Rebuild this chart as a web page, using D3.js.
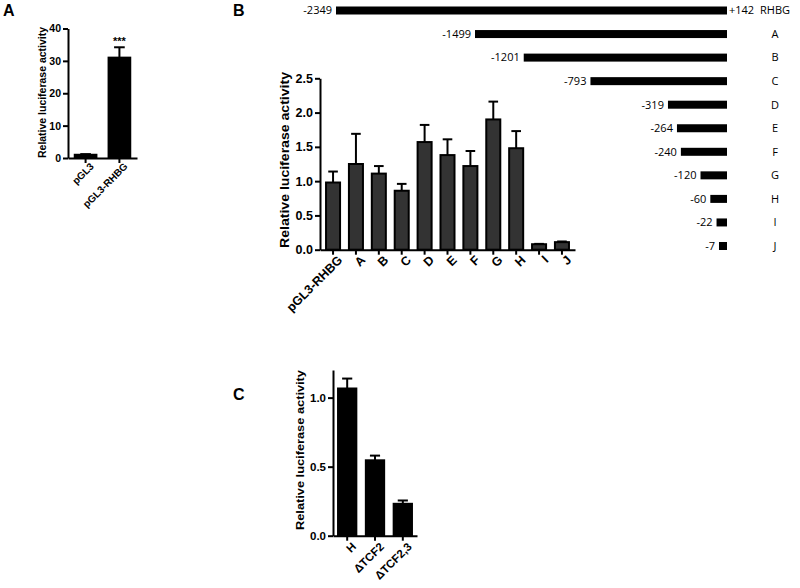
<!DOCTYPE html>
<html><head><meta charset="utf-8">
<script src="https://cdn.jsdelivr.net/npm/d3@7"></script>
<style>
body{margin:0;background:#fff;}
svg{display:block;}
.gp text{font-family:"Liberation Sans",Arial,sans-serif;font-weight:bold;fill:#000;}
.map text{font-family:"Open Sans","Noto Sans",sans-serif;fill:#000;}
</style></head>
<body>
<svg id="chart" width="800" height="588"></svg>
<script>
// ---------- data ----------
const aCats = ["pGL3", "pGL3-RHBG"];
const aVals = [1.0, 31.0];
const aErr  = [1.2, 34.2];
const aTicks = [0, 10, 20, 30, 40];

const bCats = ["pGL3-RHBG", "A", "B", "C", "D", "E", "F", "G", "H", "I", "J"];
const bVals = [0.98, 1.25, 1.11, 0.86, 1.57, 1.38, 1.22, 1.90, 1.48, 0.08, 0.11];
const bErr  = [1.14, 1.69, 1.22, 0.96, 1.82, 1.61, 1.44, 2.16, 1.73, 0.085, 0.12];
const bTicks = [0, 0.5, 1.0, 1.5, 2.0, 2.5];

const cCats = ["H", "\u0394TCF2", "\u0394TCF2,3"];
const cVals = [1.066, 0.546, 0.231];
const cErr  = [1.138, 0.58, 0.255];
const cTicks = [0, 0.5, 1.0];

const constructNames  = ["RHBG", "A", "B", "C", "D", "E", "F", "G", "H", "I", "J"];
const constructStarts = [-2349, -1499, -1201, -793, -319, -264, -240, -120, -60, -22, -7];
const constructEnd = 142;

const svg = d3.select("#chart");

// ---------- generic GraphPad-style bar panel ----------
function barPanel(opt) {
  const g = svg.append("g").attr("class", "gp");
  const x = d3.scaleBand().domain(opt.cats).range([opt.x0, opt.x1])
    .paddingInner(opt.pin).paddingOuter(opt.pout);
  const y = d3.scaleLinear().domain([0, opt.ymax]).range([opt.y0, opt.y1]);
  const data = opt.cats.map((c, i) => ({c, v: opt.vals[i], e: opt.errs[i]}));

  g.selectAll("rect.bar").data(data).join("rect").attr("class", "bar")
    .attr("x", d => x(d.c) + 1)
    .attr("width", x.bandwidth() - 2)
    .attr("y", d => y(d.v))
    .attr("height", d => y(0) - y(d.v))
    .attr("fill", opt.fill).attr("stroke", "#000").attr("stroke-width", 2);

  const capW = x.bandwidth() * opt.cap;
  g.selectAll("line.err").data(data).join("line").attr("class", "err")
    .attr("x1", d => x(d.c) + x.bandwidth() / 2).attr("x2", d => x(d.c) + x.bandwidth() / 2)
    .attr("y1", d => y(d.v)).attr("y2", d => y(d.e))
    .attr("stroke", "#000").attr("stroke-width", 2);
  g.selectAll("line.cap").data(data).join("line").attr("class", "cap")
    .attr("x1", d => x(d.c) + x.bandwidth() / 2 - capW / 2)
    .attr("x2", d => x(d.c) + x.bandwidth() / 2 + capW / 2)
    .attr("y1", d => y(d.e)).attr("y2", d => y(d.e))
    .attr("stroke", "#000").attr("stroke-width", 2);

  const ya = g.append("g").attr("transform", `translate(${opt.x0},0)`)
    .call(d3.axisLeft(y).tickValues(opt.ticks).tickFormat(opt.fmt)
      .tickSize(5).tickSizeOuter(0).tickPadding(2));
  ya.select(".domain").attr("stroke-width", 2);
  ya.selectAll(".tick line").attr("stroke-width", 2);
  ya.selectAll("text").attr("font-size", opt.tickFont)
    .attr("font-family", "Liberation Sans, Arial, sans-serif").attr("font-weight", "bold");

  const xa = g.append("g").attr("transform", `translate(0,${opt.y0})`)
    .call(d3.axisBottom(x).tickSize(5).tickSizeOuter(0).tickFormat(""));
  xa.select(".domain").attr("stroke-width", 2);
  xa.selectAll(".tick line").attr("stroke-width", 2);

  // x category labels, rotated -45 degrees, ending under each tick
  g.selectAll("text.xl").data(opt.cats).join("text").attr("class", "xl")
    .attr("transform", d => `translate(${x(d) + x.bandwidth() / 2 + opt.lx},${opt.y0 + opt.ly}) rotate(-45)`)
    .attr("text-anchor", "end").attr("dy", "0.7em")
    .attr("font-size", opt.xFont).text(d => d);

  g.append("text")
    .attr("transform", `translate(${opt.labX},${opt.labY}) rotate(-90)`)
    .attr("text-anchor", "middle")
    .attr("font-size", opt.labFont)
    .attr("textLength", opt.labLen).attr("lengthAdjust", "spacingAndGlyphs")
    .text("Relative luciferase activity");
  return {g, x, y};
}

// ---------- Panel A ----------
const pa = barPanel({
  cats: aCats, vals: aVals, errs: aErr, ticks: aTicks, fmt: d3.format("d"),
  x0: 68, x1: 137, pin: 0.3, pout: 0.17, y0: 158, y1: 28.5, ymax: 40,
  fill: "#000", cap: 0.45, tickFont: 10.5, xFont: 10, lx: 4, ly: 4,
  labX: 46, labY: 92.5, labFont: 10.5, labLen: 131
});
pa.g.append("text").attr("x", pa.x("pGL3-RHBG") + pa.x.bandwidth() / 2)
  .attr("y", pa.y(aErr[1]) - 2).attr("text-anchor", "middle")
  .attr("font-size", 11).text("***");

// ---------- Panel B bar chart ----------
barPanel({
  cats: bCats, vals: bVals, errs: bErr, ticks: bTicks, fmt: d3.format(".1f"),
  x0: 320, x1: 575, pin: 0.3, pout: 0.22, y0: 249.7, y1: 78.3, ymax: 2.5,
  fill: "#333", cap: 0.6, tickFont: 12.5, xFont: 12.5, lx: 4, ly: 5,
  labX: 289, labY: 160, labFont: 12.5, labLen: 176
});

// ---------- Panel C ----------
barPanel({
  cats: cCats, vals: cVals, errs: cErr, ticks: cTicks, fmt: d3.format(".1f"),
  x0: 333, x1: 417, pin: 0.27, pout: 0.145, y0: 535.7, y1: 370, ymax: 1.2,
  fill: "#000", cap: 0.5, tickFont: 11.5, xFont: 11.5, lx: 4, ly: 6,
  labX: 304, labY: 450, labFont: 11.5, labLen: 160
});

// ---------- Panel B construct map ----------
const map = svg.append("g").attr("class", "map");
// schematic map axis (all constructs drawn to the same right edge)
const mx = d3.scaleLinear().domain([constructStarts[0], constructEnd - 100]).range([336, 727]);
const my = d3.scalePoint().domain(constructNames).range([10.5, 246]);
const mapData = constructNames.map((n, i) => ({n, s: constructStarts[i]}));
const endX = mx(constructEnd - 100);
map.selectAll("rect").data(mapData).join("rect")
  .attr("x", d => mx(d.s)).attr("width", d => endX - mx(d.s))
  .attr("y", d => my(d.n) - 4).attr("height", 8).attr("fill", "#000");
map.selectAll("text.st").data(mapData).join("text").attr("class", "st")
  .attr("x", d => mx(d.s) - 4).attr("y", d => my(d.n)).attr("dy", "0.35em")
  .attr("text-anchor", "end").attr("font-size", 11).text(d => String(d.s));
map.selectAll("text.nm").data(mapData).join("text").attr("class", "nm")
  .attr("x", 775).attr("y", d => my(d.n)).attr("dy", "0.35em")
  .attr("text-anchor", "middle").attr("font-size", 11).text(d => d.n);
map.append("text").attr("x", endX + 2).attr("y", my("RHBG")).attr("dy", "0.35em")
  .attr("font-size", 11).text("+" + constructEnd);

// ---------- panel letters ----------
const letters = svg.append("g").attr("class", "gp");
letters.append("text").attr("x", 3).attr("y", 16).attr("font-size", 16).text("A");
letters.append("text").attr("x", 233).attr("y", 16).attr("font-size", 16).text("B");
letters.append("text").attr("x", 233).attr("y", 400).attr("font-size", 16).text("C");
</script>
</body></html>
